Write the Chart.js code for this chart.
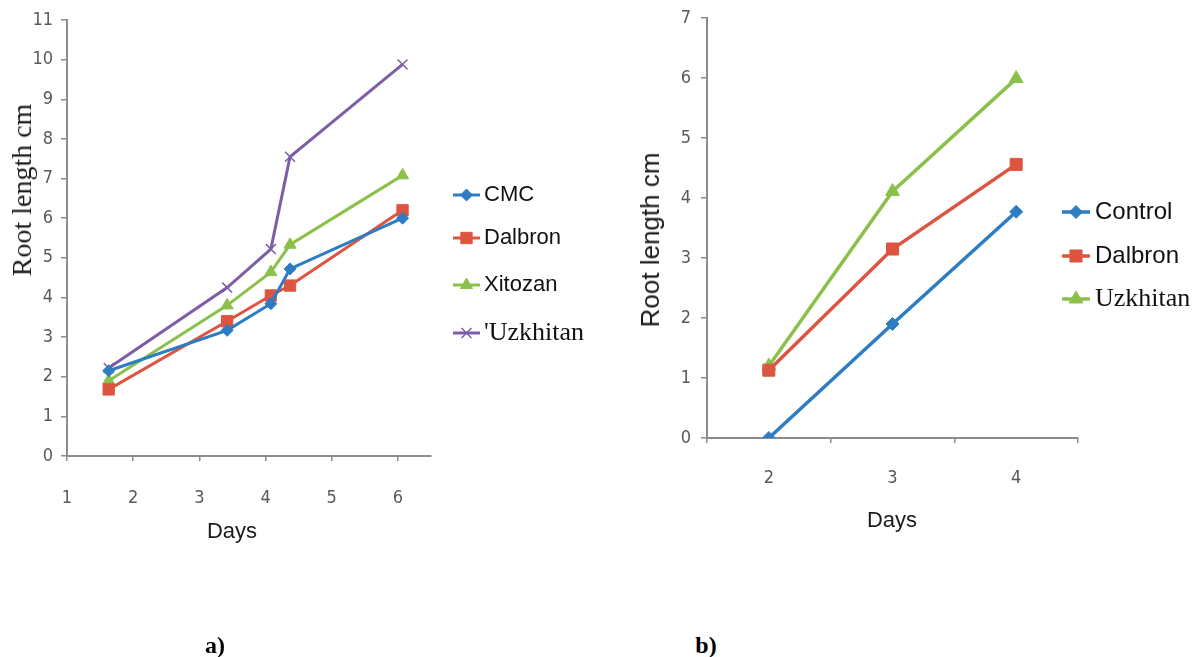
<!DOCTYPE html>
<html>
<head>
<meta charset="utf-8">
<script src="https://cdn.jsdelivr.net/npm/chart.js@4/dist/chart.umd.min.js"></script>
<style>
body { margin: 0; background: #fff; width: 1198px; height: 657px; position: relative; overflow: hidden; }
canvas { position: absolute; top: 0; }
#chartA { left: 0; }
#chartB { left: 600px; }
.lbl { position: absolute; white-space: nowrap; color: #1a1a1a; line-height: 1; transform: translate(-50%, -50%); }
.rot { transform: translate(-50%, -50%) rotate(-90deg); }
.sans { font-family: "Liberation Sans", Arial, sans-serif; }
.serif { font-family: "Liberation Serif", "Times New Roman", serif; }
.cap { font-family: "Liberation Serif", serif; font-weight: bold; font-size: 24px; color: #000; }
</style>
</head>
<body>
<canvas id="chartA" width="600" height="560"></canvas>
<canvas id="chartB" width="598" height="560"></canvas>

<div class="lbl rot serif" style="left:22px; top:190px; font-size:28px;">Root length cm</div>
<div class="lbl sans" style="left:232px; top:531px; font-size:22px;">Days</div>
<div class="lbl rot sans" style="left:650px; top:240px; font-size:26px;">Root length cm</div>
<div class="lbl sans" style="left:892px; top:520px; font-size:22px;">Days</div>
<div class="lbl cap" style="left:215px; top:645px;">a)</div>
<div class="lbl cap" style="left:706px; top:645px;">b)</div>

<script>
// chart a) data
var daysA = [1.63, 3.42, 4.08, 4.37, 6.07];
var cmc = [2.15, 3.17, 3.84, 4.72, 6.0];
var dalbronA = [1.68, 3.4, 4.05, 4.3, 6.2];
var xitozan = [1.9, 3.8, 4.64, 5.33, 7.08];
var uzkhitanA = [2.22, 4.25, 5.22, 7.55, 9.88];

// chart b) data
var daysB = ['2', '3', '4'];
var control = [0, 1.9, 3.77];
var dalbronB = [1.13, 3.15, 4.56];
var uzkhitanB = [1.2, 4.11, 5.99];

var blue = '#2e7cc2', red = '#dd5540', green = '#8bc14b', purple = '#7c5da6';
var axisGray = '#8c8c8c', tickGray = '#595959';
var tickFont = { family: '"Liberation Sans Narrow", "DejaVu Sans Condensed", sans-serif', size: 18 };
var sansFont = '22px "Liberation Sans", Arial, sans-serif';
var serifFont = '26px "Liberation Serif", "Times New Roman", serif';

function pts(xs, ys) {
    return xs.map(function(x, i) { return { x: x, y: ys[i] }; });
}

function series(label, data, color, style, radius, width) {
    return {
        label: label,
        data: data,
        borderColor: color,
        backgroundColor: color,
        borderWidth: width,
        pointStyle: style,
        pointRadius: radius,
        pointBackgroundColor: color,
        pointBorderColor: color,
        pointBorderWidth: style === 'crossRot' ? 1.5 : 1,
        showLine: true,
        tension: 0
    };
}

// legend drawn as line + marker + text, like the spreadsheet legend
var sideLegend = {
    id: 'sideLegend',
    afterDraw: function(chart, args, opts) {
        var ctx = chart.ctx;
        ctx.save();
        chart.data.datasets.forEach(function(ds, i) {
            var y = opts.rows[i];
            ctx.strokeStyle = ds.borderColor;
            ctx.lineWidth = ds.borderWidth;
            ctx.beginPath();
            ctx.moveTo(opts.x, y);
            ctx.lineTo(opts.x + opts.len, y);
            ctx.stroke();
            ctx.fillStyle = ds.pointBackgroundColor;
            ctx.strokeStyle = ds.pointBorderColor;
            ctx.lineWidth = ds.pointBorderWidth;
            Chart.helpers.drawPoint(ctx, {
                pointStyle: ds.pointStyle, radius: ds.pointRadius, rotation: 0, borderWidth: ds.pointBorderWidth
            }, opts.x + opts.len / 2, y);
            ctx.fillStyle = '#111';
            ctx.font = opts.fonts[i];
            ctx.textAlign = 'left';
            ctx.textBaseline = 'middle';
            ctx.fillText(ds.label, opts.textX, y);
        });
        ctx.restore();
    }
};

function yAxis(max, width, pad) {
    return {
        min: 0, max: max,
        ticks: { stepSize: 1, color: tickGray, font: tickFont, padding: pad },
        grid: { drawOnChartArea: false, tickLength: 6, color: axisGray, lineWidth: 1.5 },
        border: { color: axisGray, width: 2 },
        afterFit: function(s) { s.width = width; s.paddingTop = 0; s.paddingBottom = 0; }
    };
}

new Chart(document.getElementById('chartA'), {
    type: 'scatter',
    data: {
        datasets: [
            series('CMC', pts(daysA, cmc), blue, 'rectRot', 6, 3),
            series('Dalbron', pts(daysA, dalbronA), red, 'rect', 8, 3),
            series('Xitozan', pts(daysA, xitozan), green, 'triangle', 7, 3),
            series("'Uzkhitan", pts(daysA, uzkhitanA), purple, 'crossRot', 7, 3)
        ]
    },
    options: {
        responsive: false,
        animation: false,
        events: [],
        layout: { padding: { left: 0, right: 169, top: 20, bottom: 0 } },
        scales: {
            x: {
                type: 'linear', min: 1, max: 6.5,
                ticks: { stepSize: 1, includeBounds: false, color: tickGray, font: tickFont, padding: 27 },
                grid: { drawOnChartArea: false, tickLength: 5, color: axisGray, lineWidth: 1.5 },
                border: { color: axisGray, width: 2 },
                afterFit: function(s) { s.height = 104; }
            },
            y: yAxis(11, 67, 8)
        },
        plugins: {
            legend: { display: false },
            tooltip: { enabled: false },
            sideLegend: { x: 453, len: 27, textX: 484, rows: [195, 238, 285, 333],
                fonts: [sansFont, sansFont, sansFont, serifFont] }
        }
    },
    plugins: [sideLegend]
});

new Chart(document.getElementById('chartB'), {
    type: 'line',
    data: {
        labels: daysB,
        datasets: [
            series('Control', control, blue, 'rectRot', 6.5, 3.5),
            series('Dalbron', dalbronB, red, 'rect', 8.5, 3.5),
            series('Uzkhitan', uzkhitanB, green, 'triangle', 8, 3.5)
        ]
    },
    options: {
        responsive: false,
        animation: false,
        events: [],
        layout: { padding: { left: 0, right: 120, top: 18, bottom: 0 } },
        scales: {
            x: {
                type: 'category', offset: true,
                ticks: { color: tickGray, font: tickFont, padding: 25 },
                grid: { offset: true, drawOnChartArea: false, tickLength: 5, color: axisGray, lineWidth: 1.5 },
                border: { color: axisGray, width: 2 },
                afterFit: function(s) { s.height = 122; }
            },
            y: yAxis(7, 107, 10)
        },
        plugins: {
            legend: { display: false },
            tooltip: { enabled: false },
            sideLegend: { x: 462, len: 28, textX: 495, rows: [212, 256, 299],
                fonts: ['24px "Liberation Sans", Arial, sans-serif', '24px "Liberation Sans", Arial, sans-serif', serifFont] }
        }
    },
    plugins: [sideLegend]
});
</script>
</body>
</html>
